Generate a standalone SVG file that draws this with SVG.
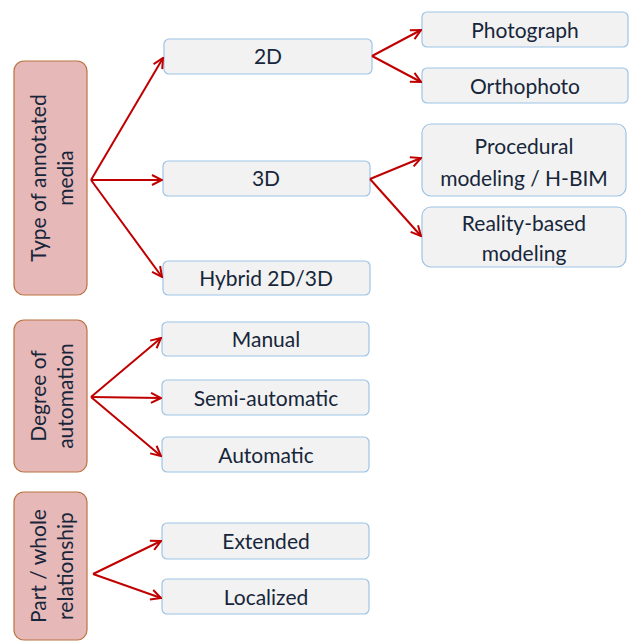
<svg xmlns="http://www.w3.org/2000/svg" width="632" height="642" viewBox="0 0 632 642">
<defs>
<marker id="ah" viewBox="0 0 12 12" refX="11" refY="6" markerWidth="12" markerHeight="12" markerUnits="userSpaceOnUse" orient="auto">
<polyline points="1,1 11,6 1,11" fill="none" stroke="#c00000" stroke-width="2"/>
</marker>
<style>
.cat{fill:#e6b8b7;stroke:#b9733f;stroke-width:1.2}
.box{fill:#f2f2f2;stroke:#9dc3e6;stroke-width:1.2}
text{font-family:Lato,"Open Sans","Liberation Sans",sans-serif;font-size:21px;fill:#17263a;text-anchor:middle}
.con line{stroke:#c00000;stroke-width:2;marker-end:url(#ah)}
</style>
</defs>
<rect width="632" height="642" fill="#ffffff"/>
<g id="cat1"><rect class="cat" x="14" y="61" width="73" height="234" rx="10"/>
<text transform="translate(50,178) rotate(-90)"><tspan x="0" y="-4">Type of annotated</tspan><tspan x="0" y="23">media</tspan></text></g>
<g id="cat2"><rect class="cat" x="14" y="320" width="73" height="152" rx="10"/>
<text transform="translate(50,396) rotate(-90)"><tspan x="0" y="-4">Degree of</tspan><tspan x="0" y="23">automation</tspan></text></g>
<g id="cat3"><rect class="cat" x="14" y="492" width="73" height="148" rx="10"/>
<text transform="translate(50,566) rotate(-90)"><tspan x="0" y="-4">Part / whole</tspan><tspan x="0" y="23">relationship</tspan></text></g>
<g id="n2d"><rect class="box" x="164" y="39" width="208" height="35" rx="5"/><text x="268" y="64">2D</text></g>
<g id="n3d"><rect class="box" x="163" y="161" width="207" height="35" rx="5"/><text x="266" y="186">3D</text></g>
<g id="nhy"><rect class="box" x="163" y="261" width="207" height="34" rx="5"/><text x="266" y="286">Hybrid 2D/3D</text></g>
<g id="nph"><rect class="box" x="422" y="12" width="206" height="35" rx="5"/><text x="525" y="38">Photograph</text></g>
<g id="nor"><rect class="box" x="422" y="68" width="206" height="35" rx="5"/><text x="525" y="94">Orthophoto</text></g>
<g id="npr"><rect class="box" x="422" y="124" width="204" height="72" rx="9"/><text x="524" y="154">Procedural</text><text x="524" y="186">modeling / H-BIM</text></g>
<g id="nre"><rect class="box" x="422" y="207" width="204" height="60" rx="9"/><text x="524" y="231">Reality-based</text><text x="524" y="261">modeling</text></g>
<g id="nma"><rect class="box" x="162" y="322" width="207" height="34" rx="5"/><text x="266" y="347">Manual</text></g>
<g id="nse"><rect class="box" x="162" y="380" width="207" height="35" rx="5"/><text x="266" y="406">Semi-automatic</text></g>
<g id="nau"><rect class="box" x="162" y="437" width="207" height="35" rx="5"/><text x="266" y="463">Automatic</text></g>
<g id="nex"><rect class="box" x="162" y="523" width="207" height="36" rx="5"/><text x="266" y="549">Extended</text></g>
<g id="nlo"><rect class="box" x="162" y="579" width="207" height="35" rx="5"/><text x="266" y="605">Localized</text></g>
<g id="connectors" class="con">
<line x1="91" y1="180" x2="163" y2="58"/>
<line x1="91" y1="180" x2="162" y2="180"/>
<line x1="91" y1="180" x2="162" y2="277"/>
<line x1="372" y1="56" x2="421" y2="30"/>
<line x1="372" y1="56" x2="421" y2="82"/>
<line x1="370" y1="179" x2="421" y2="158"/>
<line x1="370" y1="179" x2="421" y2="236"/>
<line x1="91" y1="397" x2="161" y2="338"/>
<line x1="91" y1="397" x2="161" y2="398"/>
<line x1="91" y1="397" x2="161" y2="456"/>
<line x1="93" y1="574" x2="161" y2="541"/>
<line x1="93" y1="574" x2="161" y2="598"/>
</g>
</svg>
